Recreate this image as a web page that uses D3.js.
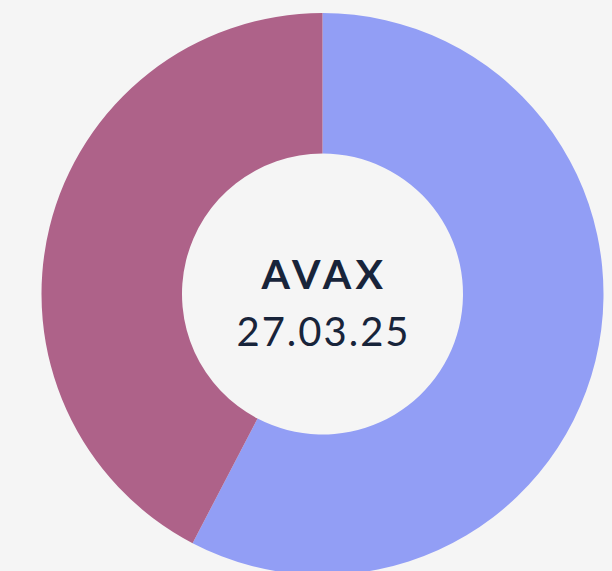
<!DOCTYPE html>
<html>
<head>
<meta charset="utf-8">
<script src="https://cdn.jsdelivr.net/npm/d3@7"></script>
<style>
  html, body { margin: 0; padding: 0; background: #f5f5f5; }
  svg { display: block; }
</style>
</head>
<body>
<script>
var labels = ['Blue', 'Purple'];
var values = [57.65, 42.35];
var colors = ['#929ef5', '#ae6289'];
var title = 'AVAX';
var subtitle = '27.03.25';

(function() {
    var w = 612,
        h = 571,
        cx = 322.5,
        cy = 294,
        outer = 281,
        inner = 140.5;

    var svg = d3.select('body')
        .append('svg')
        .attr('width', w)
        .attr('height', h);

    svg.append('rect')
        .attr('width', w)
        .attr('height', h)
        .attr('fill', '#f5f5f5');

    var g = svg.append('g')
        .attr('transform', 'translate(' + cx + ',' + cy + ')');

    var pie = d3.pie().sort(null).value(function(d) { return d; });
    var arc = d3.arc().innerRadius(inner).outerRadius(outer);
    var color = d3.scaleOrdinal().domain(labels).range(colors);

    g.selectAll('path')
        .data(pie(values))
        .enter()
        .append('path')
        .attr('d', arc)
        .attr('fill', function(d, i) { return color(labels[i]); });

    // centre labels, letter-spacing to get the wider look of the original font
    g.append('text')
        .attr('text-anchor', 'middle')
        .attr('x', 2)
        .attr('y', -5)
        .attr('fill', '#18243a')
        .style('font-family', 'Lato, "Open Sans", sans-serif')
        .style('font-weight', 700)
        .style('font-size', '41px')
        .style('letter-spacing', '4.5px')
        .text(title);

    g.append('text')
        .attr('text-anchor', 'middle')
        .attr('x', 1)
        .attr('y', 52)
        .attr('fill', '#18243a')
        .style('font-family', 'Lato, "Open Sans", sans-serif')
        .style('font-weight', 400)
        .style('font-size', '40px')
        .style('letter-spacing', '2px')
        .text(subtitle);
})();
</script>
</body>
</html>
